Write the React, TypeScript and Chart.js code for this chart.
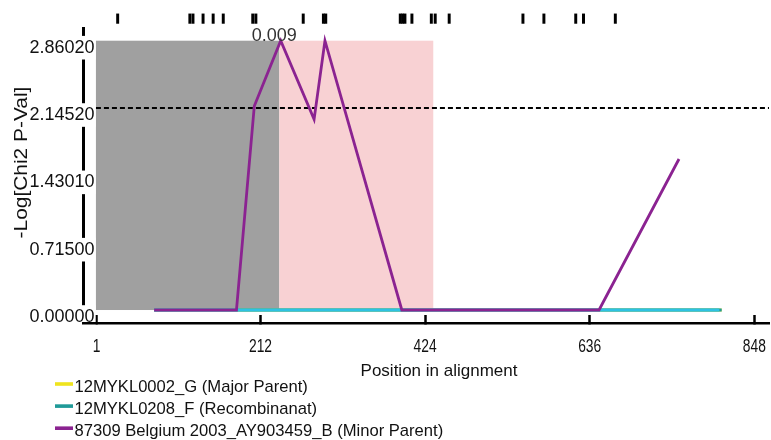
import { useEffect, useRef } from "react";
import { Chart, registerables } from "chart.js";

Chart.register(...registerables);

// ---------- data ----------
const seriesNames = [
  "12MYKL0002_G (Major Parent)",
  "12MYKL0208_F (Recombinanat)",
  "87309 Belgium 2003_AY903459_B (Minor Parent)",
];
const majorX = [75, 806];
const majorY = [0, 0];
const recombX = [75, 806];
const recombY = [0, 0];
const overlayX = [75, 803];
const overlayY = [0, 0];
const minorX = [75, 181, 204, 238, 281, 295, 394, 648, 751];
const minorY = [0, 0, 2.167, 2.8602, 2.025, 2.8602, 0, 0, 1.604];
const xTicks = [1, 212, 424, 636, 848];
const yTicks = [0, 0.715, 1.4301, 2.1452, 2.8602];
const threshold = 2.1452;
const grayRegion = [0, 236.2];
const pinkRegion = [236.2, 434.5];
const regionTop = 2.8602;
const sites = [28, 121, 125, 138, 151, 164, 202, 206, 267, 293, 296, 392, 395, 398, 407, 432, 437, 455, 550, 577, 618, 628, 669];
const siteLow = 3.044;
const siteHigh = 3.145;
const peakLabel = "0.009";
const xTitle = "Position in alignment";
const yTitle = "-Log[Chi2 P-Val]";

const FONT = "'Liberation Sans', Arial, sans-serif";

const COLORS = {
  major: "#efe41e",
  recomb: "#1f9a98",
  overlay: "#2ec2e3",
  minor: "#8b2391",
};

const pts = (xs: number[], ys: number[]) => xs.map((x, i) => ({ x, y: ys[i] }));

const decor = {
  id: "decor",
  beforeDatasetsDraw(chart: any) {
    const { ctx, scales } = chart;
    const x = scales.x;
    const y = scales.y;
    ctx.save();
    const fillRegion = (r: number[], color: string) => {
      const l = x.getPixelForValue(r[0]);
      const rr = x.getPixelForValue(r[1]);
      const t = y.getPixelForValue(regionTop);
      const b = y.getPixelForValue(0);
      ctx.fillStyle = color;
      ctx.fillRect(l, t, rr - l, b - t);
    };
    fillRegion(grayRegion, "#a0a0a0");
    fillRegion(pinkRegion, "#f8d1d3");
    const ty = y.getPixelForValue(threshold);
    ctx.setLineDash([5, 3]);
    ctx.lineWidth = 2;
    ctx.strokeStyle = "#000";
    ctx.beginPath();
    ctx.moveTo(x.getPixelForValue(grayRegion[0]), ty);
    ctx.lineTo(chart.chartArea.right, ty);
    ctx.stroke();
    ctx.restore();
  },
  afterDraw(chart: any) {
    const { ctx, scales } = chart;
    const x = scales.x;
    const y = scales.y;
    ctx.save();
    // x tick labels (condensed, as in the reference)
    ctx.fillStyle = "#111";
    ctx.font = `17.5px ${FONT}`;
    ctx.textAlign = "center";
    ctx.textBaseline = "alphabetic";
    x.ticks.forEach((t: any) => {
      const px = x.getPixelForValue(t.value);
      ctx.save();
      ctx.translate(px, 351.7);
      ctx.scale(0.79, 1);
      ctx.fillText(String(t.value), 0, 0);
      ctx.restore();
    });

    // peak label
    let mi = 0;
    minorY.forEach((v, i) => {
      if (v > minorY[mi]) mi = i;
    });
    ctx.fillStyle = "#333";
    ctx.font = `18px ${FONT}`;
    ctx.fillText(peakLabel, x.getPixelForValue(minorX[mi]) - 6.4, y.getPixelForValue(minorY[mi]));

    // x title
    ctx.fillStyle = "#111";
    ctx.font = `17px ${FONT}`;
    ctx.fillText(xTitle, 439, 376);

    // y title
    ctx.save();
    ctx.translate(26.5, 162.5);
    ctx.rotate(-Math.PI / 2);
    ctx.scale(1.13, 1);
    ctx.font = `18.5px ${FONT}`;
    ctx.textAlign = "center";
    ctx.fillText(yTitle, 0, 0);
    ctx.restore();

    // legend
    const legendDs = chart.data.datasets.filter((d: any) => seriesNames.includes(d.label));
    ctx.font = `16.6px ${FONT}`;
    ctx.textAlign = "left";
    legendDs.forEach((d: any, i: number) => {
      const base = 391.7 + i * 22.1;
      ctx.fillStyle = d.borderColor;
      ctx.fillRect(55, base - 9.5, 18, 3.6);
      ctx.fillStyle = "#111";
      ctx.fillText(d.label, 74.5, base);
    });
    ctx.restore();
  },
};

export default function App() {
  const ref = useRef<HTMLCanvasElement>(null);
  useEffect(() => {
    const chart = new Chart(ref.current as HTMLCanvasElement, {
      type: "line",
      data: {
        datasets: [
          {
            label: seriesNames[0],
            data: pts(majorX, majorY),
            borderColor: COLORS.major,
            backgroundColor: COLORS.major,
            borderWidth: 3,
            pointRadius: 0,
            order: 4,
          },
          {
            label: seriesNames[1],
            data: pts(recombX, recombY),
            borderColor: COLORS.recomb,
            backgroundColor: COLORS.recomb,
            borderWidth: 3,
            pointRadius: 0,
            order: 3,
          },
          {
            label: "overlay",
            data: pts(overlayX, overlayY),
            borderColor: COLORS.overlay,
            backgroundColor: COLORS.overlay,
            borderWidth: 3,
            pointRadius: 0,
            order: 2,
          },
          {
            label: seriesNames[2],
            data: pts(minorX, minorY),
            borderColor: COLORS.minor,
            backgroundColor: COLORS.minor,
            borderWidth: 2.8,
            pointRadius: 0,
            order: 1,
          },
          {
            type: "bar",
            label: "sites",
            data: sites.map((s) => ({ x: s, y: [siteLow, siteHigh] })),
            barThickness: 2.3,
            backgroundColor: "#000",
            borderWidth: 0,
            clip: false,
            order: 0,
          } as any,
        ],
      },
      options: {
        animation: false,
        responsive: false,
        devicePixelRatio: 1,
        layout: { padding: { top: 28, right: 2, bottom: 0, left: 0 } },
        elements: { line: { tension: 0 } },
        plugins: { legend: { display: false }, tooltip: { enabled: false } },
        scales: {
          y: {
            type: "linear",
            min: -0.138,
            max: 2.9951,
            afterBuildTicks: (s: any) => {
              s.ticks = yTicks.map((v) => ({ value: v }));
            },
            afterFit: (s: any) => {
              s.width = 83;
              s.paddingTop = 0;
              s.paddingBottom = 0;
              s.paddingLeft = 0;
              s.paddingRight = 0;
            },
            grid: { display: false, drawTicks: false },
            border: { display: true, color: "#000", width: 3, z: -1 },
            ticks: {
              color: "#111",
              font: { family: FONT, size: 18 },
              mirror: true,
              crossAlign: "near",
              padding: -53.5,
              labelOffset: 7,
              z: 1,
              showLabelBackdrop: true,
              backdropColor: "#fff",
              backdropPadding: { top: 1, bottom: 1, left: 2, right: 1 },
              callback: (v: any) => Number(v).toFixed(5),
            },
          },
          x: {
            type: "linear",
            min: -16.65,
            max: 866.93,
            offset: false,
            afterBuildTicks: (s: any) => {
              s.ticks = xTicks.map((v) => ({ value: v }));
            },
            afterFit: (s: any) => {
              s.height = 117;
              s.paddingTop = 0;
              s.paddingBottom = 0;
              s.paddingLeft = 0;
              s.paddingRight = 0;
            },
            grid: {
              display: true,
              offset: false,
              drawOnChartArea: false,
              drawTicks: true,
              tickLength: -8,
              tickWidth: 2.5,
              tickColor: "#000",
            },
            border: { display: true, color: "#000", width: 2.5, z: 2 },
            ticks: {
              display: false,
              maxRotation: 0,
              autoSkip: false,
            },
          },
        } as any,
      },
      plugins: [decor],
    });
    return () => chart.destroy();
  }, []);
  return (
    <div style={{ position: "fixed", left: 0, top: 0, width: 771, height: 440, background: "#fff" }}>
      <canvas ref={ref} width={771} height={440} style={{ display: "block", width: 771, height: 440 }} />
    </div>
  );
}
